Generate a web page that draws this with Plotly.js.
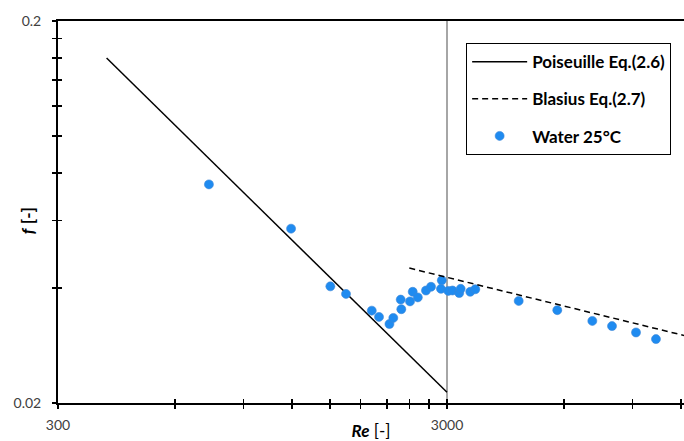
<!DOCTYPE html>
<html>
<head>
<meta charset="utf-8">
<script src="https://cdn.plot.ly/plotly-3.0.1.min.js"></script>
<style>html,body{margin:0;padding:0;background:#fff;}#chart{width:684px;height:441px;}</style>
</head>
<body>
<div id="chart"></div>
<script>
// ---- data ----
const waterRe = [733, 1192, 1504, 1650, 1922, 2006, 2134, 2183, 2289, 2281, 2410, 2449, 2524, 2649, 2729, 2909, 2895, 3023, 3099, 3225, 3253, 3443, 3547, 4586, 5762, 7091, 7967, 9183, 10335];
const waterF  = [0.0747, 0.0572, 0.0404, 0.0386, 0.0349, 0.0336, 0.0322, 0.0334, 0.0352, 0.0373, 0.0369, 0.0391, 0.0378, 0.0394, 0.0403, 0.0419, 0.0398, 0.0393, 0.0394, 0.0388, 0.0398, 0.0391, 0.0397, 0.0370, 0.0350, 0.0328, 0.0318, 0.0306, 0.0294];
const poiseuilleRe = [400, 3000];
const poiseuilleF  = [0.16, 0.02133];
const blasiusRe = [2400, 30000];
const blasiusF  = [0.0451, 0.0240];

const xMajor = [300, 3000];
const xMajorText = ['300', '3000'];
const xMinor = [600, 900, 1200, 1500, 1800, 2100, 2400, 2700, 6000, 9000, 12000];
const yMajor = [0.02, 0.2];
const yMajorText = ['0.02', '0.2'];
const yMinor = [0.04, 0.06, 0.08, 0.10, 0.12, 0.14, 0.16, 0.18];
const seriesNames = ['Poiseuille Eq.(2.6)', 'Blasius Eq.(2.7)', 'Water 25°C'];

const FONT = 'Lato, "Open Sans", sans-serif';
const xRange = [Math.log10(300), Math.log10(12200)];
const yRange = [Math.log10(0.02), Math.log10(0.2)];

const traces = [
  {x: poiseuilleRe, y: poiseuilleF, name: seriesNames[0], mode: 'lines', legendgroup: 'a',
   line: {color: '#000000', width: 1.5}, xaxis: 'x', yaxis: 'y'},
  {x: blasiusRe, y: blasiusF, name: seriesNames[1], mode: 'lines', legendgroup: 'b',
   line: {color: '#000000', width: 1.5, dash: '6px,4px'}, xaxis: 'x2', yaxis: 'y2'},
  {x: waterRe, y: waterF, name: seriesNames[2], mode: 'markers', legendgroup: 'c',
   marker: {color: '#1f8bf0', size: 9, line: {color: '#3d86d6', width: 0.6}}, xaxis: 'x', yaxis: 'y'}
];

const tickFont = {family: FONT, size: 14, color: '#404040'};
const layout = {
  width: 684, height: 441,
  margin: {l: 58, r: 0, t: 21, b: 38, pad: 0},
  paper_bgcolor: '#ffffff', plot_bgcolor: '#ffffff',
  font: {family: FONT, color: '#000'},
  showlegend: true,
  legend: {x: 0.652, y: 0.942, xanchor: 'left', yanchor: 'top',
    bgcolor: '#ffffff', bordercolor: '#000000', borderwidth: 1,
    font: {family: FONT, size: 17, color: '#000', weight: 'bold'},
    traceorder: 'grouped', tracegroupgap: 12, itemwidth: 55},
  annotations: [{text: '<b><i>f</i></b> <b>[-]</b>', xref: 'paper', yref: 'paper', x: 0, y: 0.476,
    xanchor: 'center', yanchor: 'middle', xshift: -31, textangle: -90, showarrow: false,
    font: {family: FONT, size: 17, color: '#000'}}],
  xaxis: {type: 'log', range: xRange, tickmode: 'array', tickvals: xMajor, ticktext: xMajorText,
    ticks: 'outside', ticklen: 4, tickwidth: 1.5, tickcolor: '#000',
    showline: true, linecolor: '#000', linewidth: 2, mirror: true,
    showgrid: true, gridcolor: '#a6a6a6', gridwidth: 1.5, zeroline: false,
    tickfont: tickFont, ticklabelstandoff: 4,
    minor: {tickmode: 'array', tickvals: xMinor, ticks: 'outside', ticklen: 4, tickwidth: 1.5, tickcolor: '#000', showgrid: false},
    title: {text: '<b><i>Re</i></b> [-]', font: {family: FONT, size: 17, color: '#000'}, standoff: 4}},
  yaxis: {type: 'log', range: yRange, tickmode: 'array', tickvals: yMajor, ticktext: yMajorText,
    ticks: 'outside', ticklen: 4, tickwidth: 1.5, tickcolor: '#000',
    showline: true, linecolor: '#000', linewidth: 2,
    showgrid: false, zeroline: false,
    tickfont: tickFont, ticklabelstandoff: 8,
    minor: {tickmode: 'array', tickvals: yMinor, ticks: 'outside', ticklen: 4, tickwidth: 1.5, tickcolor: '#000', showgrid: false}},
  xaxis2: {type: 'log', range: xRange, overlaying: 'x', anchor: 'y2', side: 'bottom',
    tickmode: 'array', tickvals: xMajor.concat(xMinor), ticks: 'inside', ticklen: 4, tickwidth: 1.5, tickcolor: '#000',
    showticklabels: false, showgrid: false, showline: false, zeroline: false},
  yaxis2: {type: 'log', range: yRange, overlaying: 'y', anchor: 'x2', side: 'left',
    tickmode: 'array', tickvals: yMinor, ticks: 'inside', ticklen: 4, tickwidth: 1.5, tickcolor: '#000',
    showticklabels: false, showgrid: false, showline: false, zeroline: false}
};

Plotly.newPlot('chart', traces, layout, {staticPlot: true, displayModeBar: false});
</script>
</body>
</html>
